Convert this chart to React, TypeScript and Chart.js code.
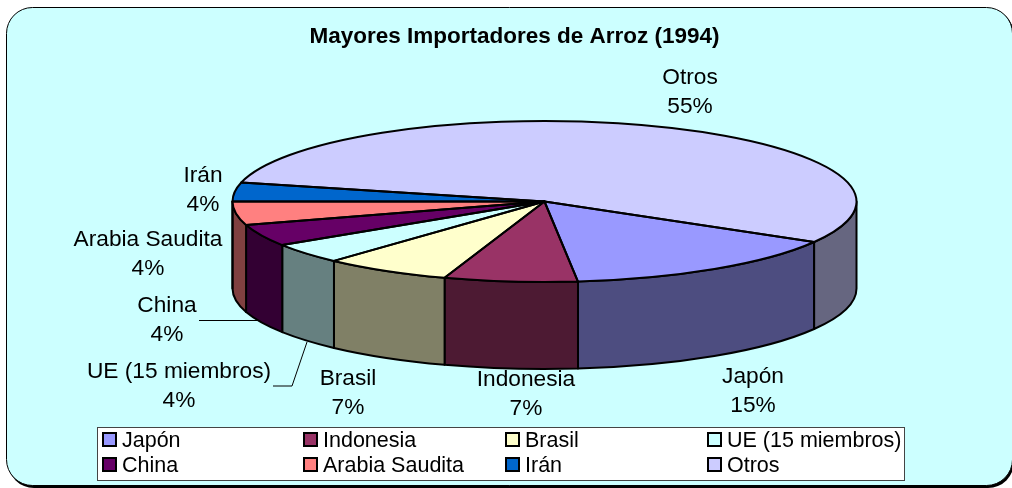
import React, { useEffect, useRef } from "react";
import { Chart, registerables } from "chart.js";

Chart.register(...registerables);

const chartTitle = "Mayores Importadores de Arroz (1994)";
const categories = ["Japón", "Indonesia", "Brasil", "UE (15 miembros)", "China", "Arabia Saudita", "Irán", "Otros"];
const shares = [14.9, 6.9, 6.6, 4.1, 4.4, 4.7, 3.8, 54.6];
const percentLabels = ["15%", "7%", "7%", "4%", "4%", "4%", "4%", "55%"];
const topColors = ["#9999FF", "#993366", "#FFFFCC", "#CCFFFF", "#660066", "#FF8080", "#0066CC", "#CCCCFF"];
const sideColors = ["#4D4D80", "#4D1A33", "#808066", "#668080", "#330033", "#804040", "#003366", "#666680"];

// layout (not data)
const FONT = '"Liberation Sans", Arial, sans-serif';
const PIE = { cx: 544.5, cy: 201.5, rx: 312, ry: 80.5, depth: 87 };
const labelLayout = [
  { x: 753, y: 377 },
  { x: 526, y: 380 },
  { x: 348, y: 379 },
  { x: 179, y: 372 },
  { x: 167, y: 306 },
  { x: 148, y: 240 },
  { x: 203, y: 176 },
  { x: 690, y: 78 },
];
const leaders = [
  [[199, 320.5], [258, 320.5]],
  [[273, 386], [292, 386], [307, 342]],
];
const legendBox = { x: 97.5, y: 427.5, w: 807, h: 53 };
const legendCols = [103, 304, 506, 708];
const legendRows = [433, 458];

function roundedPath(ctx: CanvasRenderingContext2D, x: number, y: number, w: number, h: number, r: number) {
  ctx.beginPath();
  ctx.roundRect(x, y, w, h, r);
}

const piePlugin = {
  id: "pie3d",
  beforeDraw(chart: any) {
    const ctx = chart.ctx as CanvasRenderingContext2D;
    ctx.save();
    roundedPath(ctx, 8, 9, 1006, 479, 26);
    ctx.fillStyle = "#000";
    ctx.fill();
    roundedPath(ctx, 6.5, 7.5, 1006, 478, 26);
    ctx.fillStyle = "#CCFFFF";
    ctx.fill();
    ctx.strokeStyle = "#000";
    ctx.lineWidth = 1;
    ctx.stroke();
    ctx.restore();
  },
  beforeDatasetsDraw(chart: any) {
    const ctx = chart.ctx as CanvasRenderingContext2D;
    const arcs = chart.getDatasetMeta(0).data;
    const { cx, cy, rx, ry, depth } = PIE;
    ctx.save();
    ctx.lineWidth = 2;
    ctx.strokeStyle = "#000";
    ctx.lineJoin = "round";
    arcs.forEach((arc: any, i: number) => {
      for (const shift of [0, Math.PI * 2]) {
        const a0 = Math.max(arc.startAngle, shift);
        const a1 = Math.min(arc.endAngle, shift + Math.PI);
        if (a1 <= a0) continue;
        ctx.beginPath();
        ctx.ellipse(cx, cy, rx, ry, 0, a0, a1);
        ctx.ellipse(cx, cy + depth, rx, ry, 0, a1, a0, true);
        ctx.closePath();
        ctx.fillStyle = sideColors[i];
        ctx.fill();
        ctx.stroke();
      }
    });
    ctx.restore();
  },
  beforeDatasetDraw(chart: any) {
    const ctx = chart.ctx as CanvasRenderingContext2D;
    const arc = chart.getDatasetMeta(0).data[0];
    ctx.save();
    ctx.translate(PIE.cx, PIE.cy);
    ctx.scale(PIE.rx / arc.outerRadius, PIE.ry / arc.outerRadius);
    ctx.translate(-arc.x, -arc.y);
  },
  afterDatasetDraw(chart: any) {
    const ctx = chart.ctx as CanvasRenderingContext2D;
    ctx.restore();
    const arcs = chart.getDatasetMeta(0).data;
    ctx.save();
    ctx.lineWidth = 2;
    ctx.strokeStyle = "#000";
    ctx.lineJoin = "round";
    arcs.forEach((arc: any) => {
      ctx.beginPath();
      ctx.moveTo(PIE.cx, PIE.cy);
      ctx.ellipse(PIE.cx, PIE.cy, PIE.rx, PIE.ry, 0, arc.startAngle, arc.endAngle);
      ctx.closePath();
      ctx.stroke();
    });
    ctx.restore();
  },
  afterDraw(chart: any) {
    const ctx = chart.ctx as CanvasRenderingContext2D;
    ctx.save();
    // leader lines
    ctx.strokeStyle = "#000";
    ctx.lineWidth = 1;
    leaders.forEach((pts) => {
      ctx.beginPath();
      pts.forEach(([x, y], i) => (i ? ctx.lineTo(x, y) : ctx.moveTo(x, y)));
      ctx.stroke();
    });
    // data labels
    ctx.fillStyle = "#000";
    ctx.textAlign = "center";
    ctx.textBaseline = "middle";
    ctx.font = `22.7px ${FONT}`;
    categories.forEach((name, i) => {
      const p = labelLayout[i];
      ctx.fillText(name, p.x, p.y);
      ctx.fillText(percentLabels[i], p.x, p.y + 28.5);
    });
    // legend
    ctx.fillStyle = "#FFFFFF";
    ctx.fillRect(legendBox.x, legendBox.y, legendBox.w, legendBox.h);
    ctx.strokeStyle = "#444";
    ctx.strokeRect(legendBox.x, legendBox.y, legendBox.w, legendBox.h);
    ctx.textAlign = "left";
    ctx.font = `21.5px ${FONT}`;
    categories.forEach((name, i) => {
      const x = legendCols[i % 4];
      const y = legendRows[Math.floor(i / 4)];
      ctx.fillStyle = topColors[i];
      ctx.fillRect(x, y, 13, 13);
      ctx.strokeStyle = "#000";
      ctx.lineWidth = 2;
      ctx.strokeRect(x, y, 13, 13);
      ctx.fillStyle = "#000";
      ctx.fillText(name, x + 19, y + 8.5);
    });
    ctx.restore();
  },
};

export default function App() {
  const ref = useRef<HTMLCanvasElement>(null);
  useEffect(() => {
    const chart = new Chart(ref.current!, {
      type: "pie",
      data: {
        labels: categories,
        datasets: [{ data: shares, backgroundColor: topColors, borderWidth: 0 }],
      },
      options: {
        responsive: false,
        animation: false,
        rotation: 120.2,
        events: [],
        layout: { padding: { left: 17, top: 0, right: 0, bottom: 0 } },
        plugins: {
          legend: { display: false },
          tooltip: { enabled: false },
          title: {
            display: true,
            text: chartTitle,
            color: "#000",
            font: { family: FONT, size: 22.5, weight: "bold" },
            padding: { top: 23, bottom: 10 },
          },
        },
      },
      plugins: [piePlugin],
    } as any);
    return () => chart.destroy();
  }, []);
  return (
    <div style={{ position: "absolute", left: 0, top: 0, width: 1012, height: 488 }}>
      <canvas ref={ref} width={1012} height={488} style={{ display: "block" }} />
    </div>
  );
}
